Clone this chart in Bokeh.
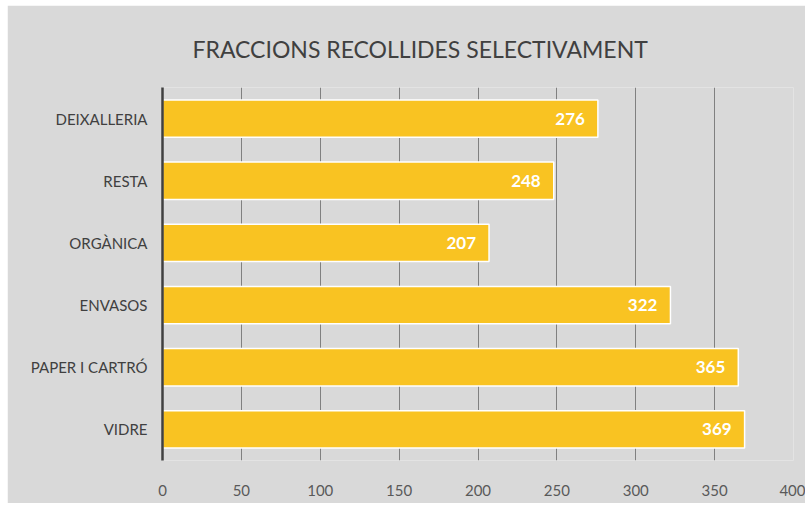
from bokeh.plotting import figure
from bokeh.models import ColumnDataSource, Range1d, FactorRange, FixedTicker
from bokeh.core.properties import value
from bokeh.embed import file_html
from bokeh.resources import INLINE

categories = ["DEIXALLERIA", "RESTA", "ORGÀNICA", "ENVASOS", "PAPER I CARTRÓ", "VIDRE"]
values = [276, 248, 207, 322, 365, 369]
x_ticks = [0, 50, 100, 150, 200, 250, 300, 350, 400]
title_text = "FRACCIONS RECOLLIDES SELECTIVAMENT"

src = ColumnDataSource(dict(cat=categories, val=values, lab=[str(v) for v in values]))

bg = "#d9d9d9"
p = figure(width=798, height=498, output_backend="svg", toolbar_location=None,
           x_range=Range1d(0, 400), y_range=FactorRange(*reversed(categories)),
           min_border_left=155, min_border_right=12, min_border_top=82, min_border_bottom=43,
           title=title_text)
p.margin = (5, 0, 0, 7)
p.background_fill_color = bg
p.border_fill_color = bg
p.outline_line_color = None

p.title.align = "left"
p.title.offset = 30
p.title.text_font = "Lato"
p.title.text_font_style = "normal"
p.title.text_font_size = "23px"
p.title.text_color = "#404040"
p.title.standoff = 50

p.hbar(y="cat", right="val", height=0.6, source=src, fill_color="#f9c322",
       line_color="white", line_width=1.5)
p.text(x="val", y="cat", text="lab", source=src, x_offset=-13, text_align="right",
       text_baseline="middle", text_color="white", text_font=value("Lato"),
       text_font_style="bold", text_font_size="17px")

p.xaxis.ticker = FixedTicker(ticks=x_ticks)
p.xaxis.axis_line_color = None
p.xaxis.major_tick_line_color = None
p.xaxis.minor_tick_line_color = None
p.xaxis.major_label_standoff = 18
p.xaxis.major_label_text_font = "Lato"
p.xaxis.major_label_text_font_size = "15px"
p.xaxis.major_label_text_color = "#595959"

p.yaxis.axis_line_color = "#404040"
p.yaxis.axis_line_width = 2.5
p.yaxis.major_tick_line_color = None
p.yaxis.minor_tick_line_color = None
p.yaxis.major_label_standoff = 9
p.yaxis.major_label_text_font = "Lato"
p.yaxis.major_label_text_font_size = "15px"
p.yaxis.major_label_text_color = "#404040"

p.xgrid.grid_line_color = "#808080"
p.xgrid.grid_line_width = 1
p.ygrid.grid_line_color = None

open("out.html", "w").write(file_html(p, INLINE))
